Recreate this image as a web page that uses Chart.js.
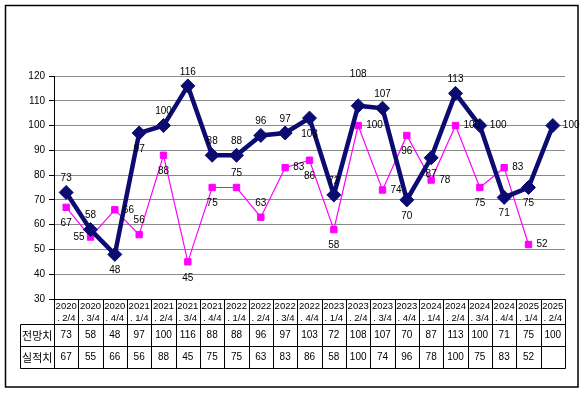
<!DOCTYPE html>
<html>
<head>
<meta charset="utf-8">
<script src="https://cdn.jsdelivr.net/npm/chart.js@4.4.0/dist/chart.umd.min.js"></script>
<style>
  html, body { margin:0; padding:0; background:#fff; }
</style>
</head>
<body>
<canvas id="chart" width="584" height="394"></canvas>
<script>
// data
const categories = [
  '2020. 2/4', '2020. 3/4', '2020. 4/4', '2021. 1/4', '2021. 2/4', '2021. 3/4', '2021. 4/4',
  '2022. 1/4', '2022. 2/4', '2022. 3/4', '2022. 4/4', '2023. 1/4', '2023. 2/4', '2023. 3/4',
  '2023. 4/4', '2024. 1/4', '2024. 2/4', '2024. 3/4', '2024. 4/4', '2025. 1/4', '2025. 2/4'
];
const seriesNames = ['전망치', '실적치'];
const forecast = [73, 58, 48, 97, 100, 116, 88, 88, 96, 97, 103, 72, 108, 107, 70, 87, 113, 100, 71, 75, 100];
const actual   = [67, 55, 66, 56, 88, 45, 75, 75, 63, 83, 86, 58, 100, 74, 96, 78, 100, 75, 83, 52, null];
const yMin = 30, yMax = 120, yStep = 10;

// where each value label sits relative to its marker (a above, A far above, b below, r right, l left)
const forecastLabelPos = ['a','a','b','b','a','a','a','a','a','a','b','a','A','a','b','b','a','r','b','b','r'];
const actualLabelPos   = ['b','l','r','a','b','b','b','a','a','r','b','b','r','r','b','r','r','b','r','r','r'];

const NAVY = '#0b0b72';
const MAGENTA = '#ff00ff';
const FONT = '"Liberation Sans", Arial, sans-serif';

const frameAndTable = {
  id: 'frameAndTable',
  beforeDraw(chart) {
    const ctx = chart.ctx;
    ctx.save();
    ctx.fillStyle = '#fff';
    ctx.fillRect(0, 0, chart.width, chart.height);
    ctx.restore();
  },
  afterDraw(chart) {
    const { ctx, chartArea: a, scales: { x } } = chart;
    const n = categories.length;
    const colW = (a.right - a.left) / n;
    const edge = k => Math.round(a.left + colW * k) + 0.5;
    const top = Math.round(a.bottom) + 0.5;
    const r1 = top + 25, r2 = r1 + 22, r3 = r2 + 22;
    const labelL = 20.5;

    ctx.save();
    ctx.strokeStyle = '#000';
    ctx.lineWidth = 1;
    ctx.beginPath();
    // axis / header top
    ctx.moveTo(a.left, top); ctx.lineTo(edge(n), top);
    // row lines
    [r1, r2, r3].forEach(y => { ctx.moveTo(labelL, y); ctx.lineTo(edge(n), y); });
    // column lines
    for (let k = 0; k <= n; k++) { ctx.moveTo(edge(k), top); ctx.lineTo(edge(k), r3); }
    ctx.moveTo(labelL, r1); ctx.lineTo(labelL, r3);
    ctx.stroke();

    // header text
    ctx.fillStyle = '#000';
    ctx.textAlign = 'center';
    ctx.textBaseline = 'middle';
    ctx.font = '9.5px ' + FONT;
    categories.forEach((c, i) => {
      const cx = x.getPixelForValue(i);
      const [yr, q] = c.split('. ');
      ctx.fillText(yr, cx, top + 6.5);
      ctx.fillText('. ' + q, cx, top + 18.5);
    });

    // value rows
    ctx.font = '10px ' + FONT;
    [forecast, actual].forEach((arr, r) => {
      const cy = (r === 0 ? r1 : r2) + 11;
      arr.forEach((v, i) => {
        if (v !== null) ctx.fillText(String(v), x.getPixelForValue(i), cy);
      });
    });
    ctx.font = '11px "Noto Sans CJK KR", sans-serif';
    ctx.fillText(seriesNames[0], (labelL + a.left) / 2, r1 + 11);
    ctx.fillText(seriesNames[1], (labelL + a.left) / 2, r2 + 11);

    // outer frame
    ctx.lineWidth = 1.5;
    ctx.strokeRect(5.5, 5.5, 572.5, 381.5);
    ctx.restore();
  }
};

const valueLabels = {
  id: 'valueLabels',
  afterDatasetsDraw(chart) {
    const ctx = chart.ctx;
    const posSets = [forecastLabelPos, actualLabelPos];
    ctx.save();
    ctx.fillStyle = '#000';
    ctx.font = '10px ' + FONT;
    ctx.textBaseline = 'middle';
    chart.data.datasets.forEach((ds, d) => {
      const meta = chart.getDatasetMeta(d);
      meta.data.forEach((pt, i) => {
        const v = ds.data[i];
        if (v === null) return;
        const p = posSets[d][i];
        let tx = pt.x, ty = pt.y;
        ctx.textAlign = 'center';
        if (p === 'a') ty -= 14;
        else if (p === 'A') ty -= 31;
        else if (p === 'b') ty += 16;
        else if (p === 'r') { ctx.textAlign = 'left'; tx += (d === 0 ? 10 : 8); }
        else if (p === 'l') { ctx.textAlign = 'right'; tx -= 6; }
        ctx.fillText(String(v), tx, ty);
      });
    });
    ctx.restore();
  }
};

new Chart(document.getElementById('chart'), {
  type: 'line',
  data: {
    labels: categories,
    datasets: [
      {
        label: seriesNames[0],
        data: forecast,
        borderColor: NAVY,
        backgroundColor: NAVY,
        borderWidth: 4.5,
        pointStyle: 'rectRot',
        pointRadius: 7,
        pointBorderWidth: 1,
        tension: 0
      },
      {
        label: seriesNames[1],
        data: actual,
        borderColor: MAGENTA,
        backgroundColor: MAGENTA,
        borderWidth: 1.2,
        pointStyle: 'rect',
        pointRadius: 4.5,
        pointBorderWidth: 1,
        tension: 0
      }
    ]
  },
  options: {
    responsive: false,
    animation: false,
    devicePixelRatio: 1,
    layout: { padding: { left: 6, right: 19, top: 76, bottom: 95 } },
    plugins: { legend: { display: false }, tooltip: { enabled: false } },
    scales: {
      x: { type: 'category', offset: true, display: false },
      y: {
        min: yMin, max: yMax,
        ticks: { stepSize: yStep, padding: 4, color: '#000', font: { size: 10, family: FONT } },
        grid: { color: '#8a8a8a', tickColor: '#000', tickLength: 5 },
        border: { color: '#000', width: 1 },
        afterFit(scale) { scale.width = 48; }
      }
    }
  },
  plugins: [frameAndTable, valueLabels]
});
</script>
</body>
</html>
